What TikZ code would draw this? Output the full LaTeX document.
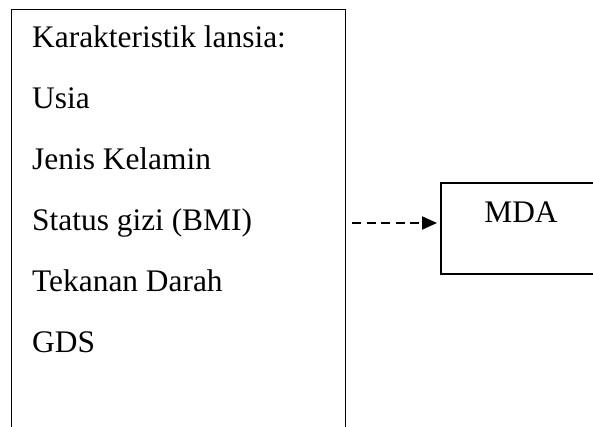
\documentclass[tikz,border=0pt]{standalone}
\usepackage{fontspec}
\setmainfont{Liberation Serif}
\usetikzlibrary{arrows.meta}
\tikzset{item/.style={anchor=base west,inner sep=0pt},
         kotak/.style={draw,anchor=north west,inner sep=0pt,outer sep=0pt},
         putus/.style={line width=2pt,dash pattern=on 9pt off 5.5pt,-{Triangle[length=15pt,width=13pt]}}}

\begin{document}
\begin{tikzpicture}[x=1pt,y=1pt,font=\fontsize{31.4}{38}\selectfont]
    \useasboundingbox (0,0) rectangle (593,427);
    \clip (0,0) rectangle (593,427);
    \node(kiri)[kotak,line width=0.8pt,minimum width=334pt,minimum height=440pt] at (11,418) {};
    \node(kanan)[kotak,line width=1.6pt,minimum width=160pt,minimum height=91pt] at (441,243.7) {};
    \node(kar)[item] at (32,379) {Karakteristik lansia:};
    \node(usia)[item] at (32,318) {Usia};
    \node(jk)[item] at (32,257) {Jenis Kelamin};
    \node(bmi)[item] at (32,196) {Status gizi (BMI)};
    \node(td)[item] at (32,135) {Tekanan Darah};
    \node(gds)[item] at (32,74) {GDS};
    \node(mda)[anchor=base,inner sep=0pt] at (521,204) {MDA};
\draw[putus] ([xshift=7pt]kiri.east |- mda.base) -- ([xshift=-4pt]kanan.west |- mda.base);
\end{tikzpicture}
\end{document}
